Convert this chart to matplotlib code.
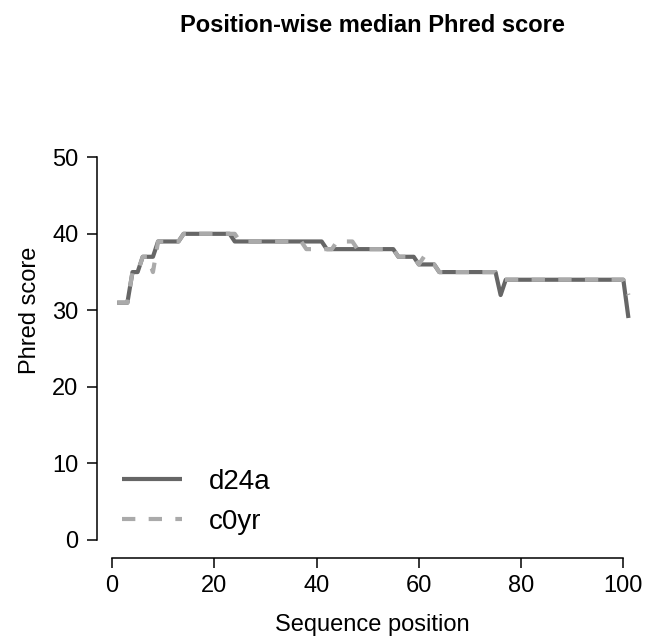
import numpy as np
import matplotlib
matplotlib.use("Agg")
import matplotlib.pyplot as plt

positions = list(range(1, 102))

d24a = ([31]*3 + [35]*2 + [37]*3 + [39]*5 + [40]*10 + [39]*18 + [38]*14 +
        [37]*4 + [36]*4 + [35]*12 + [32] + [34]*24 + [29])
c0yr = ([31]*3 + [35]*2 + [37]*2 + [35] + [39]*5 + [40]*11 + [39]*13 + [38]*6 +
        [39]*4 + [38]*8 + [37]*4 + [36] + [37] + [36]*2 + [35]*12 + [34]*25 + [32])

series_names = ["d24a", "c0yr"]
series_colors = ["#666666", "#aaaaaa"]
x_ticks = [0, 20, 40, 60, 80, 100]
y_ticks = [0, 10, 20, 30, 40, 50]

plt.rcParams['font.family'] = ['Liberation Sans', 'DejaVu Sans']

W, H = 645, 637
fig = plt.figure(figsize=(W/100, H/100), dpi=100)
left, right, bottom, top = 96.7, 648.9, 558.3, 62.4
ax = fig.add_axes([left/W, (H-bottom)/H, (right-left)/W, (bottom-top)/H])
ax.set_xlim(-3, 105)
ax.set_ylim(-2.4, 62.4)

ax.plot(positions, d24a, color=series_colors[0], lw=3, solid_capstyle='butt',
        label=series_names[0])
ax.plot(positions, c0yr, color=series_colors[1], lw=3, linestyle=(0, (3.2, 3.2)),
        dash_capstyle='butt', label=series_names[1])

for s in ['top', 'right']:
    ax.spines[s].set_visible(False)
ax.spines['left'].set_bounds(0, 50)
ax.spines['bottom'].set_bounds(0, 100)
for s in ['left', 'bottom']:
    ax.spines[s].set_linewidth(1.1)
ax.set_xticks(x_ticks)
ax.set_yticks(y_ticks)
ax.tick_params(axis='both', direction='out', length=7.2, width=1.1, labelsize=17)
ax.tick_params(axis='y', pad=6)
ax.tick_params(axis='x', pad=5)

ax.set_xlabel("Sequence position", fontsize=17, labelpad=12)
ax.set_ylabel("Phred score", fontsize=17, labelpad=8)

fig.text(372.8/W, 1-25/H, "Position-wise median Phred score", ha='center', va='center',
         fontsize=17, fontweight='bold')

leg = ax.legend(loc='upper left', bbox_to_anchor=(122/W, 1-469/H),
                bbox_transform=fig.transFigure, frameon=False, fontsize=20,
                handlelength=2.16, handletextpad=0.95, labelspacing=0.5, borderpad=0,
                borderaxespad=0)

fig.savefig("out.png", dpi=100)
